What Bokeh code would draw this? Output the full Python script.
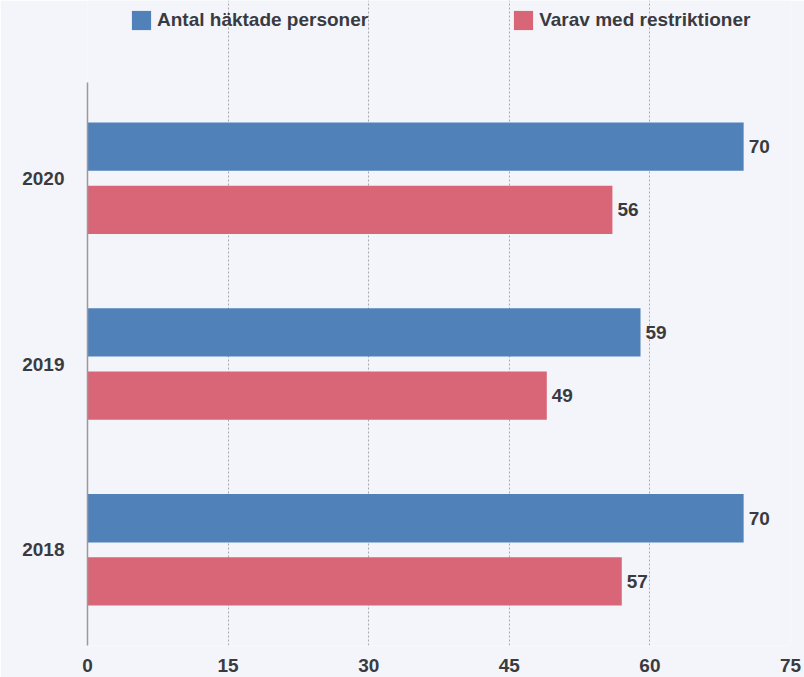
from bokeh.plotting import figure
from bokeh.models import Range1d, FixedTicker, Legend, LegendItem, ColumnDataSource
from bokeh.transform import dodge
from bokeh.core.properties import value
from bokeh.embed import file_html
from bokeh.resources import INLINE

years = ["2018", "2019", "2020"]
antal = [70, 59, 70]
varav = [57, 49, 56]
series_names = ["Antal häktade personer", "Varav med restriktioner"]
x_ticks = [0, 15, 30, 45, 60, 75]

BG = "#f4f5fa"
BLUE = "#5081b9"
RED = "#d96677"
TXT = "#3a3b40"
FONT = "Liberation Sans"
OFF = 0.17
H = 0.26
Y_LO, Y_HI = -0.515, 2.515     # extent of the drawn axis / grid
Y_TOP = 2.9565                 # extra room above for the legend

pos = list(range(len(years)))
src = ColumnDataSource(dict(
    pos=pos, antal=antal, varav=varav,
    antal_lbl=[str(v) for v in antal], varav_lbl=[str(v) for v in varav],
))

p = figure(width=804, height=677, output_backend="svg", toolbar_location=None,
           x_range=Range1d(0, 75), y_range=Range1d(Y_LO, Y_TOP),
           min_border_left=87, min_border_right=14, min_border_top=0, min_border_bottom=32,
           background_fill_color=BG, border_fill_color=BG, outline_line_color=None)

r1 = p.hbar(y=dodge("pos", OFF), left=0, right="antal", height=H, source=src,
            fill_color=BLUE, line_color=None)
r2 = p.hbar(y=dodge("pos", -OFF), left=0, right="varav", height=H, source=src,
            fill_color=RED, line_color=None)

for col, lbl, off in (("antal", "antal_lbl", OFF), ("varav", "varav_lbl", -OFF)):
    p.text(x=col, y=dodge("pos", off), text=lbl, source=src, x_offset=5,
           text_baseline="middle", text_align="left",
           text_font=value(FONT), text_font_style="bold", text_font_size="19px",
           text_color=TXT)

# axes
p.yaxis.ticker = FixedTicker(ticks=pos)
p.yaxis.major_label_overrides = {i: y for i, y in zip(pos, years)}
p.yaxis.bounds = (Y_LO, Y_HI)
p.yaxis.axis_line_color = "#9a9a9a"
p.yaxis.axis_line_width = 1.5
p.yaxis.major_tick_line_color = None
p.yaxis.minor_tick_line_color = None
p.yaxis.major_label_standoff = 17

p.xaxis.ticker = FixedTicker(ticks=x_ticks)
p.xaxis.axis_line_color = None
p.xaxis.major_tick_line_color = None
p.xaxis.minor_tick_line_color = None
p.xaxis.major_label_standoff = 7

for ax in (p.xaxis, p.yaxis):
    ax.major_label_text_font = FONT
    ax.major_label_text_font_style = "bold"
    ax.major_label_text_font_size = "19px"
    ax.major_label_text_color = TXT

p.ygrid.grid_line_color = None
p.xgrid.grid_line_color = "#a8a8ae"
p.xgrid.grid_line_dash = "2 2"
p.xgrid.grid_line_width = 1
p.xgrid.bounds = (Y_LO, Y_HI)

# legend
lg = Legend(items=[LegendItem(label=n, renderers=[r]) for n, r in zip(series_names, (r1, r2))],
            location=(42, 613), orientation="horizontal", spacing=143,
            glyph_width=24, glyph_height=24, label_standoff=4, padding=0, margin=0,
            background_fill_alpha=0, border_line_color=None,
            label_text_font=FONT, label_text_font_style="bold",
            label_text_font_size="19px", label_text_color=TXT,
            label_height=24)
p.add_layout(lg, "center")

open("out.html", "w").write(file_html(p, INLINE))
